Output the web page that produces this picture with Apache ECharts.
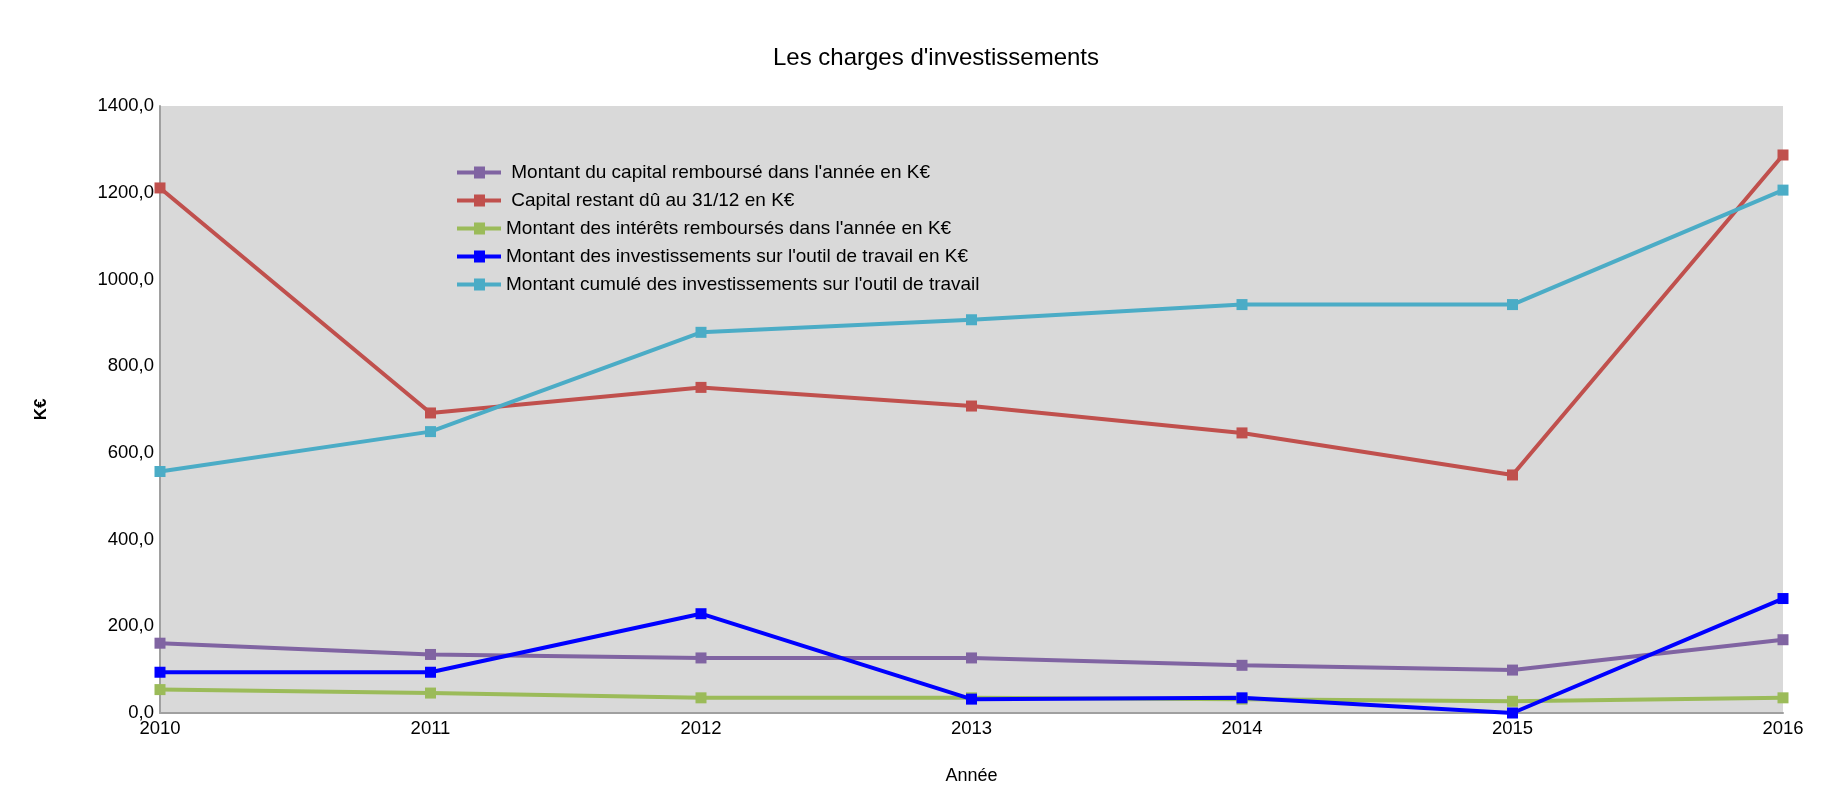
<!DOCTYPE html>
<html><head><meta charset="utf-8">
<script src="https://cdn.jsdelivr.net/npm/echarts@6/dist/echarts.min.js"></script>
<style>html,body{margin:0;padding:0;background:#fff}#c{width:1830px;height:807px}</style>
</head><body><div id="c"></div>
<script>
const years = ['2010','2011','2012','2013','2014','2015','2016'];
const capitalRembourse = [161, 135, 127, 127, 110, 99, 169];
const capitalRestant = [1211, 692, 751, 708, 646, 549, 1287];
const interets = [54, 46, 35, 35, 32, 27, 35];
const investissements = [94, 94, 229, 32, 35, 0, 264];
const cumule = [557, 649, 878, 907, 942, 942, 1206];
const names = [
  " Montant du capital remboursé dans l'année en K€",
  " Capital restant dû au 31/12 en K€",
  "Montant des intérêts remboursés dans l'année en K€",
  "Montant des investissements sur l'outil de travail en K€",
  "Montant cumulé des investissements sur l'outil de travail"
];
const colors = ['#8064a2','#c0504d','#9bbb59','#0000ff','#4bacc6'];
const datasets = [capitalRembourse, capitalRestant, interets, investissements, cumule];
const font = '"Liberation Sans", Arial, sans-serif';
const chart = echarts.init(document.getElementById('c'), null, {renderer:'canvas'});
chart.setOption({
  backgroundColor: '#ffffff',
  animation: false,
  color: colors,
  title: { text: "Les charges d'investissements", left: 931, textAlign: 'center', top: 41,
    textStyle: { fontFamily: font, fontSize: 24, fontWeight: 'normal', color: '#000' } },
  legend: { orient: 'vertical', left: 452, top: 158, itemGap: 9, itemWidth: 44, itemHeight: 12,
    textStyle: { fontFamily: font, fontSize: 19, color: '#000' },
    data: names.map(n => ({ name: n, icon: 'path://M0,4 L17,4 L17,0 L28,0 L28,4 L44,4 L44,8 L28,8 L28,12 L17,12 L17,8 L0,8 Z' })) },
  grid: { left: 160, right: 47, top: 106, bottom: 94, show: true, backgroundColor: '#d9d9d9', borderWidth: 0 },
  xAxis: { type: 'category', data: years, boundaryGap: false,
    name: 'Année', nameLocation: 'middle', nameGap: 54,
    nameTextStyle: { fontFamily: font, fontSize: 18, color: '#000' },
    axisLine: { lineStyle: { color: '#a0a0a0', width: 2 } },
    axisTick: { show: false },
    axisLabel: { fontFamily: font, fontSize: 18.5, color: '#000', margin: 6 } },
  yAxis: { type: 'value', min: 0, max: 1400, interval: 200,
    name: 'K€', nameLocation: 'middle', nameGap: 110, nameRotate: 90,
    nameTextStyle: { fontFamily: font, fontSize: 17, fontWeight: 'bold', color: '#000' },
    axisLine: { show: true, lineStyle: { color: '#a0a0a0', width: 2 } },
    axisTick: { show: false },
    splitLine: { show: false },
    axisLabel: { fontFamily: font, fontSize: 18.5, color: '#000', margin: 6,
      formatter: v => v.toFixed(1).replace('.', ',') } },
  series: datasets.map((d, i) => ({
    name: names[i], type: 'line', data: d,
    symbol: 'rect', symbolSize: 11,
    lineStyle: { width: 4, color: colors[i] },
    itemStyle: { color: colors[i] }
  }))
});
</script></body></html>
